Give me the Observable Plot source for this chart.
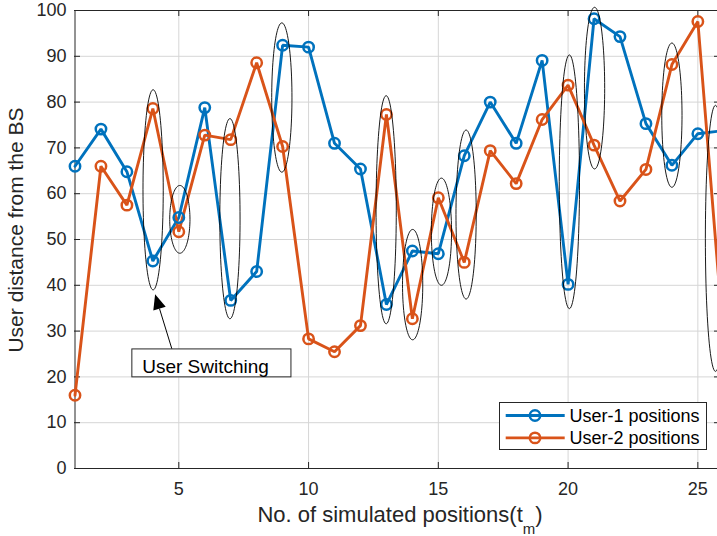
<!DOCTYPE html>
<html><head><meta charset="utf-8">
<script src="https://cdn.jsdelivr.net/npm/d3@7"></script>
<script src="https://cdn.jsdelivr.net/npm/@observablehq/plot@0.6"></script>
<style>
body{margin:0;overflow:hidden;background:#fff}
#chart{position:relative;width:717px;height:536px}
</style>
</head><body><div id="chart"></div>
<script>
// ---- data ----
const positions = [1,2,3,4,5,6,7,8,9,10,11,12,13,14,15,16,17,18,19,20,21,22,23,24,25,26];
const user1 = [66.0,74.1,64.8,45.3,54.8,78.8,36.7,43.0,92.4,92.0,71.0,65.4,35.8,47.5,46.9,68.3,80.0,71.0,89.1,40.2,98.2,94.3,75.3,66.2,73.1,73.8];
const user2 = [16.0,66.0,57.5,78.6,51.7,72.8,71.8,88.6,70.3,28.3,25.5,31.2,77.3,32.7,59.1,45.0,69.4,62.2,76.2,83.7,70.6,58.4,65.3,88.2,97.6,27.5];
const seriesNames = ["User-1 positions","User-2 positions"];
const seriesColors = ["#0072BD","#D95319"];
const xTicks = [5,10,15,20,25];
const yTicks = [0,10,20,30,40,50,60,70,80,90,100];
// switching ellipses (annotation): centre x, low y, high y
const switchX = [4.01,5.04,6.97,8.97,12.99,14.01,15.12,16.07,20.05,21.02,24.0,25.68];
const switchLow = [39.0,47.0,32.7,64.7,31.6,28.1,40.0,37.0,34.9,65.4,61.4,21.2];
const switchHigh = [82.7,61.8,76.4,97.3,81.4,52.2,63.4,73.9,90.3,100.7,92.9,79.3];
const noteText = "User Switching";
const xLabel = "No. of simulated positions(t";
const xLabelSub = "m";
const yLabel = "User distance from the BS";

// ---- build tables ----
const rows = positions.flatMap((x,i)=>[
  {x, y:user1[i], s:seriesNames[0]},
  {x, y:user2[i], s:seriesNames[1]}
]);
const ellRx = 0.39;
const ellPts = [];
switchX.forEach((cx,i)=>{
  const cy=(switchLow[i]+switchHigh[i])/2, ry=(switchHigh[i]-switchLow[i])/2;
  for(let a=0;a<360;a+=4){
    const t=a*Math.PI/180;
    ellPts.push({id:i, x:cx+ellRx*Math.cos(t), y:cy+ry*Math.sin(t)});
  }
});
const noteBox = [{x1:3.21,x2:9.34,y1:19.9,y2:26.0}];
const noteLabel = [{x:3.59,y:22.1,t:noteText}];
const arrowFrom = {x:4.75,y:26.05}, arrowTip = {x:4.106,y:37.92};

const W=717,H=536, mL=74, mR=0, mT=10, mB=68;
const fw=W-mL-mR, fh=H-mT-mB;
const ink="#262626";

const chart = Plot.plot({
  width:W, height:H, marginLeft:mL, marginRight:mR, marginTop:mT, marginBottom:mB,
  style:{fontFamily:"'Liberation Sans', Arial, Helvetica, sans-serif", color:ink, background:"#fff", overflow:"hidden"},
  x:{domain:[1,26], range:[74.5,723.3]},
  y:{domain:[0,100]},
  color:{domain:seriesNames, range:seriesColors},
  marks:[
    Plot.gridX(xTicks,{stroke:"#d6d6d6",strokeOpacity:1}),
    Plot.gridY(yTicks,{stroke:"#d6d6d6",strokeOpacity:1}),
    Plot.ruleX([1],{stroke:ink}),
    Plot.ruleY([0],{stroke:ink}),
    Plot.ruleY([100],{stroke:ink}),
    Plot.tickX(xTicks,{x:d=>d, insetTop:fh-6, stroke:ink}),
    Plot.tickX(xTicks,{x:d=>d, insetBottom:fh-6, stroke:ink}),
    Plot.tickY(yTicks,{y:d=>d, insetRight:fw-6, stroke:ink}),
    Plot.tickY(yTicks,{y:d=>d, insetLeft:fw-3, stroke:ink}),
    Plot.axisX({ticks:xTicks, tickSize:0, tickPadding:14, fontSize:18, label:null, fill:ink}),
    Plot.axisY({ticks:yTicks, tickSize:0, tickPadding:8, fontSize:18, label:null, fill:ink}),
    Plot.line(rows,{x:"x",y:"y",z:"s",stroke:"s",strokeWidth:2.9,strokeLinejoin:"miter"}),
    Plot.dot(rows,{x:"x",y:"y",stroke:"s",r:5.2,strokeWidth:2.5,fill:"none"}),
    Plot.line(ellPts,{x:"x",y:"y",z:"id",stroke:"black",strokeWidth:0.9,curve:"linear-closed"}),
    Plot.rect(noteBox,{x1:"x1",x2:"x2",y1:"y1",y2:"y2",fill:"white",stroke:ink,strokeWidth:1}),
    Plot.text(noteLabel,{x:"x",y:"y",text:"t",textAnchor:"start",fontSize:19,fill:"black"})
  ]
});

const svg = d3.select(chart);
const sx = chart.scale("x"), sy = chart.scale("y");
// arrow
const p0=[sx.apply(arrowFrom.x), sy.apply(arrowFrom.y)];
const p1=[sx.apply(arrowTip.x), sy.apply(arrowTip.y)];
const dx=p1[0]-p0[0], dy=p1[1]-p0[1], L=Math.hypot(dx,dy);
const ux=dx/L, uy=dy/L, nx=-uy, ny=ux, hl=15, hw=6.5;
const b=[p1[0]-ux*hl, p1[1]-uy*hl];
svg.append("line").attr("x1",p0[0]).attr("y1",p0[1]).attr("x2",b[0]).attr("y2",b[1]).attr("stroke","black").attr("stroke-width",1);
svg.append("path").attr("d",`M${p1[0]},${p1[1]}L${b[0]+nx*hw},${b[1]+ny*hw}L${b[0]-nx*hw},${b[1]-ny*hw}Z`).attr("fill","black");

// axis titles
svg.append("text").attr("transform","translate(23,230) rotate(-90)").attr("text-anchor","middle")
  .attr("font-size",21).attr("fill",ink).text(yLabel);
const xt = svg.append("text").attr("x",400).attr("y",521.7).attr("text-anchor","middle").attr("font-size",22).attr("fill",ink);
xt.append("tspan").text(xLabel);
xt.append("tspan").attr("dy",12).attr("font-size",15).text(xLabelSub);
xt.append("tspan").attr("dy",-12).text(")");

// legend
const lg = svg.append("g").attr("text-anchor","start");
lg.append("rect").attr("x",499.5).attr("y",402.5).attr("width",207).attr("height",47).attr("fill","white").attr("stroke",ink);
seriesNames.forEach((n,i)=>{
  const yy = 415.5 + i*22.4;
  lg.append("line").attr("x1",505.7).attr("x2",564.7).attr("y1",yy).attr("y2",yy).attr("stroke",seriesColors[i]).attr("stroke-width",2.9);
  lg.append("circle").attr("cx",535).attr("cy",yy).attr("r",5.2).attr("fill","none").attr("stroke",seriesColors[i]).attr("stroke-width",2.5);
  lg.append("text").attr("x",569.5).attr("y",yy).attr("dy","0.35em").attr("text-anchor","start").attr("font-size",18).attr("fill","black").text(n);
});

document.getElementById("chart").appendChild(chart);
</script>
</body></html>
